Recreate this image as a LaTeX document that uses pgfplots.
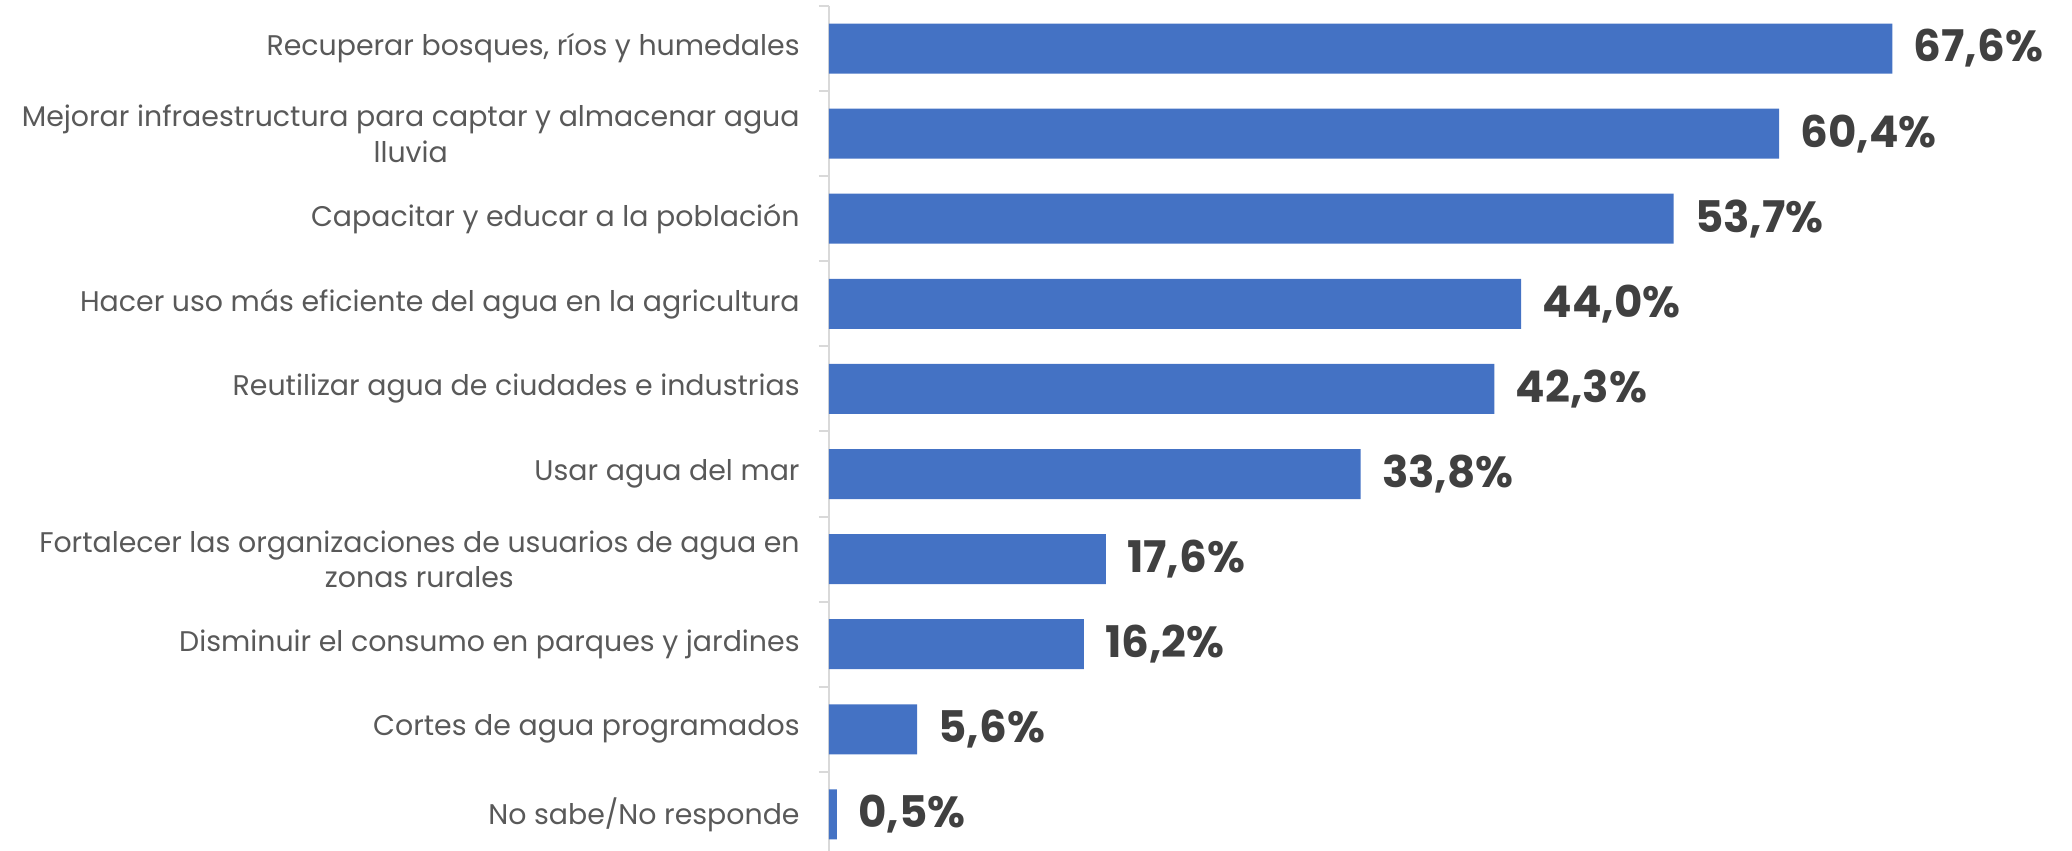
\documentclass[border=0pt]{standalone}
\usepackage{fontspec}
\setmainfont{Poppins}
\usepackage{pgfplots}
\pgfplotsset{compat=1.18}
\definecolor{barblue}{HTML}{4472C4}
\definecolor{labgray}{HTML}{595959}
\definecolor{valgray}{HTML}{404040}
\definecolor{axgray}{HTML}{D9D9D9}
\begin{document}
\begin{tikzpicture}
\begin{axis}[
 at={(0,0)}, anchor=south west,
 scale only axis, width=621.5pt, height=422.5pt,
 xbar, bar width=25pt,
 xmin=0, xmax=79.02, ymin=-0.5, ymax=9.43, y dir=reverse,
 enlargelimits=false,
 axis x line=none, axis y line*=left,
 axis line style={axgray, line width=1pt},
 ytick={0,...,9},
 yticklabels={
  {Recuperar bosques, ríos y humedales},
  {Mejorar infraestructura para captar y almacenar agua\\lluvia},
  {Capacitar y educar a la población},
  {Hacer uso más eficiente del agua en la agricultura},
  {Reutilizar agua de ciudades e industrias},
  {Usar agua del mar},
  {Fortalecer las organizaciones de usuarios de agua en\\zonas rurales},
  {Disminuir el consumo en parques y jardines},
  {Cortes de agua programados},
  {No sabe/No responde}},
 major tick length=0pt,
 minor ytick={-0.5,0.5,...,8.5},
 minor tick length=5pt, tick align=outside,
 minor tick style={axgray, line width=1pt},
 yticklabel style={align=center, font=\fontsize{14.2}{17.8}\selectfont, text=labgray, inner sep=0pt, xshift=-14.5pt},
 point meta=x,
 nodes near coords={\pgfmathprintnumber[fixed,fixed zerofill,precision=1,use comma]{\pgfplotspointmeta}\%},
 every node near coord/.append style={anchor=west, inner sep=0pt, xshift=10.5pt, font=\fontsize{21.8}{26}\selectfont\bfseries, text=valgray},
 clip=false,
 /pgf/number format/assume math mode=true,
]
\addplot[fill=barblue, draw=none] coordinates {
 (67.6,0) (60.4,1) (53.7,2) (44.0,3) (42.3,4) (33.8,5) (17.6,6) (16.2,7) (5.6,8) (0.5,9)};
\end{axis}
\pgfresetboundingbox
\path[use as bounding box] (-414.5pt,0) rectangle (621.5pt,425.5pt);
\end{tikzpicture}
\end{document}
